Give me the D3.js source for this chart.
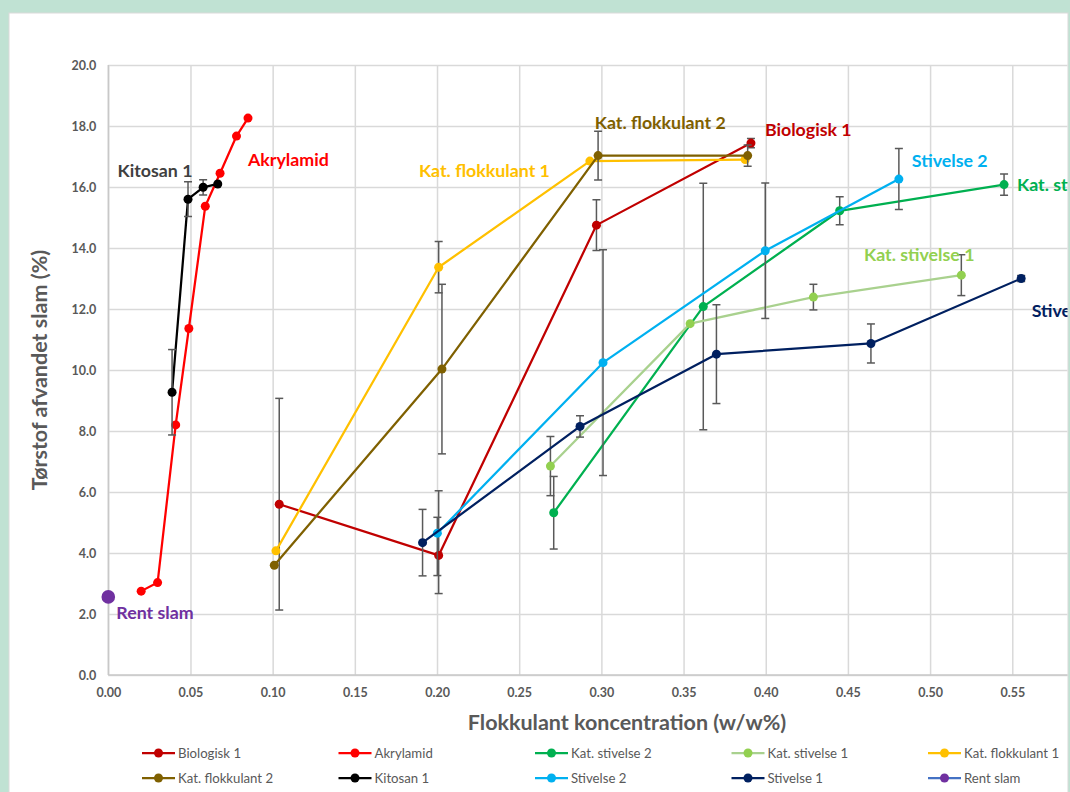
<!DOCTYPE html>
<html>
<head>
<meta charset="utf-8">
<script src="https://cdn.jsdelivr.net/npm/d3@7"></script>
<style>
  html, body { margin: 0; padding: 0; background: #c0e2d3; }
  svg { display: block; }
</style>
</head>
<body>
<svg id="chart" width="1070" height="792"></svg>
<script>
// ---- Data -------------------------------------------------------------
const seriesNames = ["Biologisk 1", "Akrylamid", "Kat. stivelse 2", "Kat. stivelse 1", "Kat. flokkulant 1",
                     "Kat. flokkulant 2", "Kitosan 1", "Stivelse 2", "Stivelse 1", "Rent slam"];

// x = flokkulant koncentration (w/w%), y = tørstof (%), err = ± (or [minus, plus])
const biologisk1X = [0.104, 0.201, 0.297, 0.391];
const biologisk1Y = [5.60, 3.92, 14.75, 17.44];
const biologisk1Err = [3.47, [1.25, 2.12], 0.83, 0.15];

const akrylamidX = [0.020, 0.030, 0.041, 0.049, 0.059, 0.068, 0.078, 0.085];
const akrylamidY = [2.75, 3.03, 8.20, 11.36, 15.37, 16.45, 17.67, 18.26];
const akrylamidErr = [0, 0, 0, 0, 0, 0, 0, 0];

const katStivelse2X = [0.271, 0.362, 0.445, 0.545];
const katStivelse2Y = [5.32, 12.08, 15.22, 16.08];
const katStivelse2Err = [1.19, 4.04, 0.46, 0.35];

const katStivelse1X = [0.269, 0.354, 0.429, 0.519];
const katStivelse1Y = [6.85, 11.52, 12.39, 13.11];
const katStivelse1Err = [0.97, 0, 0.42, 0.67];

const katFlok1X = [0.102, 0.201, 0.293, 0.3875];
const katFlok1Y = [4.07, 13.37, 16.85, 16.90];
const katFlok1Err = [0, 0.84, 0, 0];

const katFlok2X = [0.101, 0.203, 0.298, 0.389];
const katFlok2Y = [3.60, 10.03, 17.03, 17.03];
const katFlok2Err = [0, 2.78, 0.80, 0.35];

const kitosan1X = [0.0388, 0.0485, 0.0577, 0.0666];
const kitosan1Y = [9.27, 15.60, 15.99, 16.10];
const kitosan1Err = [1.40, 0.57, 0.25, 0];

const stivelse2X = [0.2002, 0.301, 0.3997, 0.481];
const stivelse2Y = [4.65, 10.24, 13.91, 16.26];
const stivelse2Err = [[1.39, 0.52], 3.70, 2.22, 1.00];

const stivelse1X = [0.1912, 0.287, 0.370, 0.464, 0.5554];
const stivelse1Y = [4.34, 8.15, 10.52, 10.87, 13.00];
const stivelse1Err = [1.09, 0.35, 1.62, 0.64, 0.10];

const rentSlamX = [0];
const rentSlamY = [2.56];
const rentSlamErr = [0];

// Axis ticks
const xTicks = [0, 0.05, 0.10, 0.15, 0.20, 0.25, 0.30, 0.35, 0.40, 0.45, 0.50, 0.55];
const xGrid = [0, 0.05, 0.10, 0.15, 0.20, 0.25, 0.30, 0.35, 0.40, 0.45, 0.50, 0.55, 0.60];
const yTicks = [0, 2, 4, 6, 8, 10, 12, 14, 16, 18, 20];

// Series name labels, anchored in data units (start of text, baseline)
const labelNames = ["Kitosan 1", "Akrylamid", "Kat. flokkulant 1", "Kat. flokkulant 2", "Biologisk 1",
                    "Stivelse 2", "Kat. stivelse 2", "Kat. stivelse 1", "Stivelse 1", "Rent slam"];
const labelTexts = ["Kitosan 1", "Akrylamid", "Kat. flokkulant 1", "Kat. flokkulant 2", "Biologisk 1",
                    "Stivelse 2", "Kat. stivelse 2", "Kat. stivelse 1", "Stivelse 1", "Rent slam"];
const labelX = [0.0056, 0.085, 0.189, 0.296, 0.3995, 0.4889, 0.5529, 0.4598, 0.5618, 0.0049];
const labelY = [16.33, 16.70, 16.34, 17.90, 17.68, 16.67, 15.88, 13.58, 11.75, 1.84];

// ---- Styles -----------------------------------------------------------
const lineColor = {
  "Biologisk 1": "#c00000", "Akrylamid": "#ff0000", "Kat. stivelse 2": "#00b050",
  "Kat. stivelse 1": "#a9d18e", "Kat. flokkulant 1": "#ffc000", "Kat. flokkulant 2": "#7f6000",
  "Kitosan 1": "#000000", "Stivelse 2": "#00b0f0", "Stivelse 1": "#002060", "Rent slam": "#4472c4"
};
const markerColor = {
  "Biologisk 1": "#c00000", "Akrylamid": "#ff0000", "Kat. stivelse 2": "#00b050",
  "Kat. stivelse 1": "#92d050", "Kat. flokkulant 1": "#ffc000", "Kat. flokkulant 2": "#7f6000",
  "Kitosan 1": "#000000", "Stivelse 2": "#00b0f0", "Stivelse 1": "#002060", "Rent slam": "#7030a0"
};
const labelColor = {
  "Biologisk 1": "#c00000", "Akrylamid": "#ff0000", "Kat. stivelse 2": "#00b050",
  "Kat. stivelse 1": "#92d050", "Kat. flokkulant 1": "#ffc000", "Kat. flokkulant 2": "#7f6000",
  "Kitosan 1": "#404040", "Stivelse 2": "#00b0f0", "Stivelse 1": "#002060", "Rent slam": "#7030a0"
};

const seriesData = [
  [biologisk1X, biologisk1Y, biologisk1Err],
  [akrylamidX, akrylamidY, akrylamidErr],
  [katStivelse2X, katStivelse2Y, katStivelse2Err],
  [katStivelse1X, katStivelse1Y, katStivelse1Err],
  [katFlok1X, katFlok1Y, katFlok1Err],
  [katFlok2X, katFlok2Y, katFlok2Err],
  [kitosan1X, kitosan1Y, kitosan1Err],
  [stivelse2X, stivelse2Y, stivelse2Err],
  [stivelse1X, stivelse1Y, stivelse1Err],
  [rentSlamX, rentSlamY, rentSlamErr]
];
const series = seriesNames.map((name, i) => ({
  name,
  points: seriesData[i][0].map((x, j) => {
    const e = seriesData[i][2][j];
    const [minus, plus] = Array.isArray(e) ? e : [e, e];
    return { x, y: seriesData[i][1][j], minus, plus };
  })
}));

// ---- Layout -----------------------------------------------------------
const panel = { x: 9, y: 13, w: 1059, h: 800 };
const plot = { left: 108.3, top: 65, bottom: 675 };
const FONT = "Lato, 'Open Sans', 'Liberation Sans', sans-serif";
const GREY = "#595959";

const svg = d3.select("#chart");

svg.append("rect").attr("x", panel.x).attr("y", panel.y)
  .attr("width", panel.w).attr("height", panel.h)
  .attr("fill", "#ffffff").attr("stroke", "#d9d9d9").attr("stroke-width", 1);

svg.append("defs").append("clipPath").attr("id", "panelClip")
  .append("rect").attr("x", panel.x).attr("y", panel.y)
  .attr("width", panel.w - 0.5).attr("height", panel.h);

const g = svg.append("g").attr("clip-path", "url(#panelClip)");

const x = d3.scaleLinear().domain([0, 0.6]).range([plot.left, plot.left + 0.6 * 1643.6]);
const y = d3.scaleLinear().domain([0, 20]).range([plot.bottom, plot.top]);
const plotRight = x(0.6);

// Gridlines
const gridX = d3.axisBottom(x).tickValues(xGrid).tickFormat("").tickSize(-(plot.bottom - plot.top));
const gridY = d3.axisLeft(y).tickValues(yTicks).tickFormat("").tickSize(-(plotRight - plot.left));
const ggx = g.append("g").attr("transform", `translate(0,${plot.bottom})`).call(gridX);
const ggy = g.append("g").attr("transform", `translate(${plot.left},0)`).call(gridY);
[ggx, ggy].forEach(a => {
  a.select(".domain").remove();
  a.selectAll(".tick line").attr("stroke", "#d9d9d9").attr("stroke-width", 1.5);
});

// Tick labels
const yAxis = d3.axisLeft(y).tickValues(yTicks).tickFormat(d3.format(".1f")).tickSize(0).tickPadding(12);
const xAxis = d3.axisBottom(x).tickValues(xTicks).tickFormat(d3.format(".2f")).tickSize(0).tickPadding(13);
const gy = g.append("g").attr("transform", `translate(${plot.left},0)`).call(yAxis);
const gx = g.append("g").attr("transform", `translate(0,${plot.bottom})`).call(xAxis);
[gx, gy].forEach(a => {
  a.select(".domain").remove();
  a.selectAll(".tick line").remove();
  a.selectAll(".tick text").attr("fill", GREY).attr("font-family", FONT)
    .attr("font-size", 12.5).attr("font-weight", 700);
});

// Axis baselines a shade darker
g.append("line").attr("x1", plot.left).attr("x2", plotRight).attr("y1", plot.bottom).attr("y2", plot.bottom)
  .attr("stroke", "#c8c8c8").attr("stroke-width", 1.5);
g.append("line").attr("x1", plot.left).attr("x2", plot.left).attr("y1", plot.top).attr("y2", plot.bottom)
  .attr("stroke", "#c8c8c8").attr("stroke-width", 1.5);

// Axis titles
g.append("text").attr("x", 627).attr("y", 730).attr("text-anchor", "middle")
  .attr("font-family", FONT).attr("font-size", 21.5).attr("font-weight", 700).attr("fill", GREY)
  .text("Flokkulant koncentration (w/w%)");
g.append("text").attr("transform", "translate(47,370) rotate(-90)").attr("text-anchor", "middle")
  .attr("font-family", FONT).attr("font-size", 21.5).attr("font-weight", 700).attr("fill", GREY)
  .text("Tørstof afvandet slam (%)");

// Series
const line = d3.line().x(d => x(d.x)).y(d => y(d.y));
series.forEach(s => {
  const sg = g.append("g");
  if (s.points.length > 1) {
    sg.append("path").datum(s.points).attr("d", line)
      .attr("fill", "none").attr("stroke", lineColor[s.name]).attr("stroke-width", 2.25)
      .attr("stroke-linejoin", "round");
  }
  const eb = s.points.filter(p => p.minus > 0 || p.plus > 0);
  const ebg = sg.selectAll("g.eb").data(eb).join("g").attr("class", "eb")
    .attr("stroke", GREY).attr("stroke-width", 1.5);
  ebg.append("line").attr("x1", d => x(d.x)).attr("x2", d => x(d.x))
    .attr("y1", d => y(d.y + d.plus)).attr("y2", d => y(d.y - d.minus));
  ebg.append("line").attr("x1", d => x(d.x) - 4).attr("x2", d => x(d.x) + 4)
    .attr("y1", d => y(d.y + d.plus)).attr("y2", d => y(d.y + d.plus));
  ebg.append("line").attr("x1", d => x(d.x) - 4).attr("x2", d => x(d.x) + 4)
    .attr("y1", d => y(d.y - d.minus)).attr("y2", d => y(d.y - d.minus));
  sg.selectAll("circle").data(s.points).join("circle")
    .attr("cx", d => x(d.x)).attr("cy", d => y(d.y))
    .attr("r", s.name === "Rent slam" ? 6.8 : 4.5)
    .attr("fill", markerColor[s.name]);
});

// Series labels
labelTexts.forEach((t, i) => {
  g.append("text").attr("x", x(labelX[i])).attr("y", y(labelY[i]))
    .attr("font-family", FONT).attr("font-size", 17.8).attr("font-weight", 700)
    .attr("fill", labelColor[labelNames[i]]).text(t);
});

// Legend (two rows of five)
const legX = [142, 338.5, 535, 731.5, 928];
const legY = [753, 778];
seriesNames.forEach((name, i) => {
  const lx = legX[i % 5], ly = legY[Math.floor(i / 5)];
  const lg = g.append("g");
  lg.append("line").attr("x1", lx).attr("x2", lx + 33).attr("y1", ly).attr("y2", ly)
    .attr("stroke", lineColor[name]).attr("stroke-width", 2.25);
  lg.append("circle").attr("cx", lx + 16.5).attr("cy", ly).attr("r", 4.5).attr("fill", markerColor[name]);
  lg.append("text").attr("x", lx + 36).attr("y", ly + 4.5)
    .attr("font-family", FONT).attr("font-size", 13.2).attr("fill", GREY).text(name);
});
</script>
</body>
</html>
